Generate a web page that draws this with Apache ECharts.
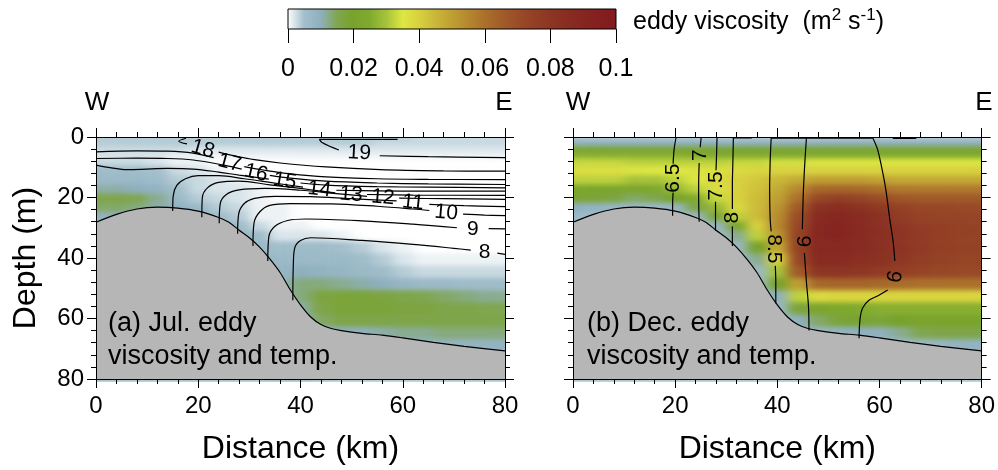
<!DOCTYPE html>
<html>
<head>
<meta charset="utf-8">
<title>eddy viscosity and temperature sections</title>
<script src="https://cdn.jsdelivr.net/npm/echarts@6/dist/echarts.min.js"></script>
<style>
  html, body { margin: 0; padding: 0; background: #fff; }
  .layer { position: absolute; left: 0; top: 0; width: 998px; height: 470px; }
  #field { filter: url(#soft); }
</style>
</head>
<body>
<svg width="0" height="0" style="position:absolute">
  <filter id="soft" color-interpolation-filters="sRGB">
    <feGaussianBlur stdDeviation="6 2.5"/>
  </filter>
</svg>
<div id="field" class="layer"></div>
<div id="chart" class="layer"></div>
<script>
  const FONT = "'Liberation Sans', Arial, sans-serif";

  // grid of the viscosity fields: distance (km) and depth (m)
  const xs = [0, 4, 8, 12, 16, 20, 24, 28, 32, 36, 40, 44, 48, 52, 56, 60, 64, 68, 72, 76, 80];
  const depths = [0, 2, 4, 6, 8, 11, 14, 17, 20, 23, 26, 29, 32, 36, 40, 44, 48, 52, 56, 60, 64, 68, 72];

  // eddy viscosity, 1e-3 m2/s, one row per depth level
  const julVisc = [
    [4, 4, 4, 4, 4, 4, 4, 4, 4, 4, 4, 4, 4, 4, 4, 4, 3, 3, 3, 3, 3],
    [4, 4, 4, 4, 4, 4, 4, 4, 4, 4, 4, 4, 4, 4, 3, 3, 3, 3, 3, 3, 3],
    [3, 3, 3, 3, 3, 2, 2, 2, 2, 2, 2, 2, 2, 2, 2, 2, 2, 2, 2, 2, 2],
    [2, 2, 2, 2, 1, 1, 1, 1, 1, 1, 1, 1, 1, 1, 1, 1, 1, 1, 1, 1, 1],
    [3, 3, 3, 2, 1, 1, 0, 0, 0, 0, 0, 0, 0, 0, 0, 0, 0, 0, 0, 0, 0],
    [6, 6, 6, 5, 3, 2, 1, 0, 0, 0, 0, 0, 0, 0, 0, 0, 0, 0, 0, 0, 0],
    [7, 7, 7, 6, 4, 3, 2, 1, 0, 0, 0, 0, 0, 0, 0, 0, 0, 0, 0, 0, 0],
    [11, 11, 10, 9, 5, 3, 2, 2, 1, 0, 0, 0, 0, 0, 0, 0, 0, 0, 0, 0, 0],
    [16, 16, 15, 12, 7, 4, 3, 2, 1, 0, 0, 0, 0, 0, 0, 0, 0, 0, 0, 0, 0],
    [14, 14, 13, 11, 9, 7, 4, 3, 1, 1, 0, 0, 0, 0, 0, 0, 0, 0, 0, 0, 0],
    [9, 10, 10, 9, 9, 9, 6, 4, 1, 1, 0, 0, 0, 0, 0, 0, 0, 0, 0, 0, 0],
    [8, 8, 8, 8, 8, 8, 8, 6, 3, 1, 1, 0, 0, 0, 0, 0, 0, 0, 0, 0, 0],
    [8, 8, 8, 8, 8, 8, 8, 8, 6, 2, 2, 2, 1, 0, 0, 0, 0, 0, 0, 0, 0],
    [8, 8, 8, 8, 8, 8, 8, 8, 7, 5, 6, 6, 5, 4, 2, 1, 0, 0, 0, 0, 0],
    [8, 8, 8, 8, 8, 8, 8, 8, 8, 7, 7, 7, 7, 6, 4, 2, 1, 1, 1, 1, 1],
    [8, 8, 8, 8, 8, 8, 8, 8, 8, 8, 10, 9, 8, 7, 6, 4, 3, 3, 3, 3, 3],
    [8, 8, 8, 8, 8, 8, 8, 8, 8, 9, 13, 13, 12, 11, 10, 8, 7, 7, 6, 6, 6],
    [8, 8, 8, 8, 8, 8, 8, 8, 8, 9, 13, 17, 18, 18, 17, 16, 15, 14, 13, 12, 12],
    [8, 8, 8, 8, 8, 8, 8, 8, 8, 9, 11, 16, 18, 18, 18, 17, 17, 16, 16, 15, 15],
    [8, 8, 8, 8, 8, 8, 8, 8, 8, 9, 10, 14, 16, 16, 16, 16, 16, 16, 16, 16, 16],
    [8, 8, 8, 8, 8, 8, 8, 8, 8, 9, 9, 9, 10, 10, 11, 12, 12, 13, 13, 13, 13],
    [8, 8, 8, 8, 8, 8, 8, 8, 8, 9, 9, 8, 7, 7, 7, 8, 9, 9, 9, 9, 9],
    [8, 8, 8, 8, 8, 8, 8, 8, 8, 9, 9, 8, 5, 5, 5, 5, 5, 6, 6, 6, 6]
  ];
  const decVisc = [
    [4, 4, 4, 4, 4, 4, 4, 4, 4, 4, 4, 4, 4, 4, 4, 4, 4, 4, 4, 4, 4],
    [10, 10, 10, 10, 10, 10, 10, 10, 10, 10, 10, 10, 10, 10, 10, 10, 10, 10, 10, 10, 10],
    [19, 19, 19, 19, 19, 19, 19, 19, 19, 19, 19, 19, 19, 19, 19, 19, 19, 19, 19, 19, 19],
    [26, 26, 26, 26, 26, 26, 25, 25, 25, 25, 25, 25, 25, 25, 25, 25, 25, 25, 25, 25, 25],
    [33, 33, 33, 32, 32, 32, 32, 32, 33, 33, 34, 34, 35, 35, 35, 35, 35, 35, 35, 35, 35],
    [37, 37, 37, 36, 35, 35, 36, 37, 38, 39, 40, 40, 40, 40, 40, 40, 40, 40, 40, 40, 40],
    [32, 32, 32, 30, 30, 32, 35, 38, 40, 42, 45, 48, 50, 50, 50, 49, 48, 48, 48, 48, 48],
    [22, 22, 22, 22, 24, 28, 32, 37, 40, 43, 48, 55, 62, 63, 62, 60, 58, 58, 58, 58, 58],
    [19, 18, 17, 14, 15, 20, 25, 33, 40, 44, 50, 60, 72, 75, 73, 70, 67, 66, 66, 66, 66],
    [10, 9, 8, 7, 7, 8, 16, 28, 38, 44, 52, 66, 82, 85, 82, 78, 74, 72, 72, 71, 71],
    [7, 6, 6, 6, 6, 6, 7, 18, 32, 44, 54, 70, 87, 89, 86, 82, 77, 74, 73, 73, 73],
    [6, 6, 6, 6, 6, 6, 6, 8, 22, 40, 55, 72, 89, 90, 87, 83, 79, 76, 75, 74, 74],
    [6, 6, 6, 6, 6, 6, 6, 6, 12, 32, 52, 74, 89, 90, 87, 84, 80, 77, 75, 74, 74],
    [6, 6, 6, 6, 6, 6, 6, 6, 7, 20, 48, 74, 88, 88, 86, 83, 80, 77, 75, 74, 74],
    [6, 6, 6, 6, 6, 6, 6, 6, 6, 12, 40, 72, 86, 86, 84, 82, 79, 76, 74, 73, 73],
    [6, 6, 6, 6, 6, 6, 6, 6, 6, 7, 30, 66, 80, 80, 79, 77, 75, 73, 72, 71, 71],
    [6, 6, 6, 6, 6, 6, 6, 6, 6, 6, 20, 50, 62, 63, 63, 62, 61, 60, 60, 60, 60],
    [6, 6, 6, 6, 6, 6, 6, 6, 6, 6, 10, 32, 38, 39, 39, 39, 39, 39, 39, 39, 39],
    [6, 6, 6, 6, 6, 6, 6, 6, 6, 6, 7, 18, 22, 24, 25, 26, 26, 26, 26, 26, 26],
    [6, 6, 6, 6, 6, 6, 6, 6, 6, 6, 6, 10, 14, 18, 19, 18, 20, 21, 21, 21, 21],
    [6, 6, 6, 6, 6, 6, 6, 6, 6, 6, 6, 7, 8, 9, 10, 10, 12, 15, 16, 16, 16],
    [6, 6, 6, 6, 6, 6, 6, 6, 6, 6, 6, 6, 6, 6, 6, 6, 6, 7, 8, 9, 9],
    [6, 6, 6, 6, 6, 6, 6, 6, 6, 6, 6, 6, 6, 6, 6, 6, 6, 6, 6, 6, 6]
  ];

  // colour scale, one colour per 0.005 m2/s from 0 to 0.1
  const viscColors = ['#ffffff', '#a3bfcc', '#8fb0bf', '#80a650', '#78a22b', '#80aa2e', '#a6c23a',
    '#dde743', '#d8d13f', '#cab739', '#bf9f33', '#b5872f', '#ab702b', '#a25d29', '#9a4c27',
    '#933f25', '#8d3524', '#892d22', '#862520', '#841f1f', '#82191e'];

  // bottom depth along the section
  const bathyX = [0, 4, 8, 12, 16, 20, 24, 26, 28, 30, 32, 34, 36, 38, 40, 42, 44, 46, 48, 52, 56, 60, 66, 72, 80];
  const bathyD = [28.2, 25.6, 23.8, 23.2, 23.5, 24.5, 26.6, 28.2, 30.8, 33.3, 36.4, 40.3, 44.8, 50.5, 55.5,
    59.5, 62.0, 63.3, 64.0, 64.9, 65.5, 66.4, 67.9, 69.2, 70.7];

  // temperature contours (null = gap for a label)
  const julContours = [
    [[59, 0.8], [43.7, 0.8], [44.2, 1.8], [47.5, 4.3], null, [55.5, 6.2], [65, 6.5], [80, 6.8]],
    [[17.6, 0.4], [16.2, 1.4], [17.8, 2.3], null, [24, 5.0], [27, 6.2], [31, 7.5], [36, 8.6], [45, 9.9], [55.6, 10.8], [68, 11.2], [80, 11.3]],
    [[0, 4.9], [8, 4.6], [14, 4.7], [19, 5.3], [23, 6.8], null, [29, 9.8], [33, 11], [38, 12.2], [45, 13.2], [55, 13.8], [65, 14], [80, 14.1]],
    [[0, 7.1], [8, 7], [14, 7.1], [19, 7.6], [25, 9.3], [28.5, 10.6], null, [34, 12.7], [38, 13.6], [45, 14.6], [55, 15.2], [65, 15.5], [80, 15.7]],
    [[0, 9.3], [3, 10.2], [6, 10.8], [9, 10.7], [14, 10.4], [19, 10.6], [24, 11.6], [28, 12.6], [33.8, 13.9], null, [40, 15.2], [45, 15.9], [55, 16.4], [65, 16.6], [80, 16.8]],
    [[15, 24.5], [15.1, 19.5], [15.8, 16], [17.5, 13.8], [20, 12.8], [24, 12.8], [29, 13.8], [34, 15], [40.5, 16.6], null, [47, 17.6], [55, 17.8], [65, 17.9], [80, 17.9]],
    [[20.7, 26.5], [20.8, 20], [21.8, 16.8], [24, 15], [28, 14.6], [34, 15.8], [40, 17], [44, 17.9], [46.8, 18.5], null, [53, 19], [62, 19.2], [80, 19.3]],
    [[24.1, 28.5], [24.3, 22], [25.5, 19], [28, 17.5], [33, 17], [40, 17.6], [47, 18.7], [53, 19.6], null, [59.3, 20.2], [68, 20.4], [80, 20.6]],
    [[27.7, 32], [27.9, 25.5], [29, 22], [31, 20.3], [35, 19.6], [42, 19.7], [50, 20.4], [58.8, 21.1], null, [65.2, 22.3], [72, 22.7], [80, 23]],
    [[30.7, 36], [30.9, 28.5], [32, 24.8], [34, 22.6], [38, 22], [46, 22.1], [55, 22.9], [62, 23.8], [65.2, 24.3], null, [71.8, 25.5], [76, 25.8], [80, 26]],
    [[33.6, 41], [33.8, 33], [35, 29.5], [37.5, 27.6], [41, 27.1], [52, 27.7], [62, 28.8], [70.6, 30], null, [76.8, 30.3], [80, 30.4]],
    [[38.5, 54], [38.6, 42], [38.9, 36.5], [40, 34.2], [42, 33.3], [52, 34.2], [62, 35.5], [70, 36.8], [73.3, 37.4], null, [78.5, 38.4], [80, 38.8]]
  ];
  const julLabels = [['19', 51.5, 5.3, -3], ['18', 20.9, 4.0, -16], ['17', 26.1, 8.6, -15], ['16', 31.3, 11.9, -13],
    ['15', 36.9, 14.6, -10], ['14', 43.7, 17.3, -7], ['13', 49.9, 19.0, -5], ['12', 56.1, 20.0, -5],
    ['11', 62.0, 21.7, -6], ['10', 68.5, 25.0, -5], ['9', 73.7, 30.4, 0], ['8', 76.0, 38.0, 0]];

  const decContours = [
    [[20.2, 0], [19.8, 4], [19.6, 8.8], null, [19.6, 18.4], [19.5, 22], [19.5, 26]],
    [[25.1, 0], [24.9, 3.4], null, [24.7, 8.6], [24.6, 16], [24.6, 20], [24.7, 28]],
    [[28.2, 0], [28.1, 6], [28, 11], null, [27.9, 21.4], [27.9, 26], [27.9, 31]],
    [[31.4, 0], [31.3, 8], [31.2, 16], [31.2, 23.8], null, [31.2, 29.6], [31.2, 36]],
    [[38.8, 0.3], [38.6, 8], [38.5, 18], [38.6, 27], [38.8, 31.2], null, [39.6, 42.6], [39.7, 48], [39.7, 55]],
    [[45.7, 0.3], [45.4, 8], [45.1, 18], [44.9, 30.5], null, [45.3, 38.4], [45.7, 48], [46.1, 56], [46.2, 64]],
    [[58.7, 0.3], [59.6, 4], [60.3, 9], [61.2, 17], [62, 27], [62.7, 35], [63, 41], null, [61.6, 50.6], [59.8, 52.4], [58, 53.9], [56.7, 56.5], [56.2, 60], [56, 66.5]],
    [[38.8, 0.4], [58.7, 0.4]],
    [[62.6, 0.5], [67.2, 0.5]],
    [[31.3, 0.3], [35, 0.3]]
  ];
  const decLabels = [['6.5', 19.6, 13.6, 90], ['7', 24.9, 6.0, 90], ['7.5', 28.0, 16.2, 90], ['8', 31.2, 26.7, 90],
    ['8.5', 39.3, 37.0, -90], ['9', 45.0, 34.5, -90], ['9', 62.6, 46.0, -100]];

  const panelGrids = [
    { left: 96, top: 137, width: 409, height: 245 },
    { left: 573, top: 137, width: 409, height: 245 }
  ];

  // ---------- bottom layer: the viscosity fields (softened by the css filter) ----------
  const field = echarts.init(document.getElementById('field'));

  function cellSeries(rows, axis) {
    const data = [];
    rows.forEach((row, i) => {
      const d0 = i === 0 ? -5 : (depths[i - 1] + depths[i]) / 2;
      const d1 = i === depths.length - 1 ? 80 : (depths[i] + depths[i + 1]) / 2;
      row.forEach((v, j) => {
        const x0 = j === 0 ? -5 : (xs[j - 1] + xs[j]) / 2;
        const x1 = j === xs.length - 1 ? 85 : (xs[j] + xs[j + 1]) / 2;
        data.push([x0, x1, d0, d1, v]);
      });
    });
    return {
      type: 'custom',
      xAxisIndex: axis,
      yAxisIndex: axis,
      silent: true,
      clip: false,
      encode: { x: [0, 1], y: [2, 3] },
      data: data,
      renderItem: (params, api) => {
        const p0 = api.coord([api.value(0), api.value(2)]);
        const p1 = api.coord([api.value(1), api.value(3)]);
        return {
          type: 'rect',
          shape: { x: p0[0], y: p0[1], width: p1[0] - p0[0] + 0.6, height: p1[1] - p0[1] + 0.6 },
          style: { fill: api.visual('color') }
        };
      }
    };
  }

  const hiddenAxis = (grid, inverse) => ({ type: 'value', gridIndex: grid, min: 0, max: 80, inverse: inverse, show: false });

  field.setOption({
    animation: false,
    grid: panelGrids,
    xAxis: [hiddenAxis(0, false), hiddenAxis(1, false)],
    yAxis: [hiddenAxis(0, true), hiddenAxis(1, true)],
    visualMap: {
      type: 'continuous', show: false, min: 0, max: 100, dimension: 4,
      seriesIndex: [0, 1], inRange: { color: viscColors }
    },
    series: [cellSeries(julVisc, 0), cellSeries(decVisc, 1)]
  });

  // ---------- top layer: frame, contours, bottom, labels ----------
  const chart = echarts.init(document.getElementById('chart'));

  function contourSeries(paths, axis) {
    return paths.map(p => ({
      type: 'line',
      xAxisIndex: axis,
      yAxisIndex: axis,
      data: p.map(pt => (pt ? pt : '-')),
      smooth: 0.35,
      showSymbol: false,
      silent: true,
      connectNulls: false,
      lineStyle: { color: '#000', width: 1.2 }
    }));
  }

  function bathySeries(axis) {
    return {
      type: 'line',
      xAxisIndex: axis,
      yAxisIndex: axis,
      data: bathyX.map((x, i) => [x, bathyD[i]]),
      smooth: 0.3,
      showSymbol: false,
      silent: true,
      lineStyle: { color: '#000', width: 1.2 },
      areaStyle: { color: '#b6b6b6', opacity: 1, origin: 'end' }
    };
  }

  function labelSeries(labels, axis) {
    return {
      type: 'scatter',
      xAxisIndex: axis,
      yAxisIndex: axis,
      symbolSize: 0,
      silent: true,
      itemStyle: { opacity: 1 },
      data: labels.map(l => ({
        value: [l[1], l[2]],
        label: { formatter: l[0], rotate: l[3] }
      })),
      label: {
        show: true,
        position: 'inside',
        color: '#000',
        opacity: 1,
        textBorderWidth: 0,
        textBorderColor: 'transparent',
        fontSize: 21,
        fontFamily: FONT
      }
    };
  }

  function xAx(grid, pos, withLabels, name) {
    return {
      type: 'value', gridIndex: grid, position: pos, min: 0, max: 80, interval: 20, z: 10,
      axisLine: { show: true, onZero: false, lineStyle: { color: '#000', width: 1 } },
      axisTick: { show: true, length: 9, lineStyle: { color: '#000' } },
      minorTick: { show: true, splitNumber: 5, length: 5, lineStyle: { color: '#000' } },
      splitLine: { show: false },
      axisLabel: { show: withLabels, color: '#000', fontSize: 24, fontFamily: FONT, margin: 15 },
      name: name || '',
      nameLocation: 'middle',
      nameGap: 54,
      nameTextStyle: { color: '#000', fontSize: 32, fontFamily: FONT }
    };
  }

  function yAx(grid, pos, withLabels, name) {
    return {
      type: 'value', gridIndex: grid, position: pos, min: 0, max: 80, interval: 20, inverse: true, z: 10,
      axisLine: { show: true, onZero: false, lineStyle: { color: '#000', width: 1 } },
      axisTick: { show: true, length: 9, lineStyle: { color: '#000' } },
      minorTick: { show: true, splitNumber: 5, length: 5, lineStyle: { color: '#000' } },
      splitLine: { show: false },
      axisLabel: { show: withLabels, color: '#000', fontSize: 24, fontFamily: FONT, margin: 12 },
      name: name || '',
      nameLocation: 'middle',
      nameRotate: 90,
      nameGap: 54,
      nameTextStyle: { color: '#000', fontSize: 32, fontFamily: FONT }
    };
  }

  const series = contourSeries(julContours, 0).concat(contourSeries(decContours, 2))
    .concat([bathySeries(0), bathySeries(2), labelSeries(julLabels, 0), labelSeries(decLabels, 2)]);

  // colour bar
  series.push({
    type: 'custom',
    xAxisIndex: 4,
    yAxisIndex: 4,
    silent: true,
    z: 12,
    data: [[0, 0.1]],
    renderItem: (params, api) => {
      const p0 = api.coord([api.value(0), 1]);
      const p1 = api.coord([api.value(1), 0]);
      const stops = viscColors.map((c, i) => ({ offset: i / (viscColors.length - 1), color: c }));
      return {
        type: 'rect',
        shape: { x: p0[0], y: p0[1], width: p1[0] - p0[0], height: p1[1] - p0[1] },
        style: { fill: new echarts.graphic.LinearGradient(0, 0, 1, 0, stops), stroke: '#000', lineWidth: 1 }
      };
    }
  });

  const txt = (s, x, y, align, size) => ({
    type: 'text', x: x, y: y, silent: true, z: 20,
    style: { text: s, fill: '#000', font: size + 'px ' + FONT, textAlign: align, textVerticalAlign: 'middle' }
  });
  // white frame round the two panels, hiding the softened field edges
  const mask = (x, y, w, h) => ({
    type: 'rect', silent: true, z: 1, shape: { x: x, y: y, width: w, height: h }, style: { fill: '#fff' }
  });

  chart.setOption({
    animation: false,
    backgroundColor: 'transparent',
    grid: panelGrids.concat([{ left: 288, top: 9, width: 328, height: 20 }]),
    xAxis: [
      xAx(0, 'bottom', true, 'Distance (km)'),
      xAx(0, 'top', false),
      xAx(1, 'bottom', true, 'Distance (km)'),
      xAx(1, 'top', false),
      {
        type: 'value', gridIndex: 2, position: 'bottom', min: 0, max: 0.1, interval: 0.02, z: 10,
        axisLine: { show: false },
        axisTick: { show: true, length: 14, lineStyle: { color: '#000' } },
        splitLine: { show: false },
        axisLabel: {
          color: '#000', fontSize: 25, fontFamily: FONT, margin: 28,
          formatter: v => String(+v.toFixed(2))
        }
      }
    ],
    yAxis: [
      yAx(0, 'left', true, 'Depth (m)'),
      yAx(0, 'right', false),
      yAx(1, 'left', false),
      yAx(1, 'right', false),
      { type: 'value', gridIndex: 2, min: 0, max: 1, show: false }
    ],
    graphic: [
      mask(0, 0, 998, 137),
      mask(0, 382, 998, 88),
      mask(0, 137, 96, 245),
      mask(505, 137, 68, 245),
      mask(982, 137, 16, 245),
      txt('W', 97, 103, 'center', 26),
      txt('E', 504, 103, 'center', 26),
      txt('W', 578, 103, 'center', 26),
      txt('E', 984, 103, 'center', 26),
      txt('(a) Jul. eddy', 108, 324, 'left', 27),
      txt('viscosity and temp.', 108, 357, 'left', 27),
      txt('(b) Dec. eddy', 587, 324, 'left', 27),
      txt('viscosity and temp.', 587, 357, 'left', 27),
      {
        type: 'text', x: 633, y: 21, silent: true, z: 20,
        style: {
          text: '{a|eddy viscosity  (m}{s|2}{a| s}{s|-1}{a|)}',
          fill: '#000',
          textVerticalAlign: 'middle',
          rich: {
            a: { fontSize: 25, fontFamily: FONT, lineHeight: 28, verticalAlign: 'bottom' },
            s: { fontSize: 17, fontFamily: FONT, lineHeight: 28, verticalAlign: 'top' }
          }
        }
      }
    ],
    series: series
  });
</script>
</body>
</html>
